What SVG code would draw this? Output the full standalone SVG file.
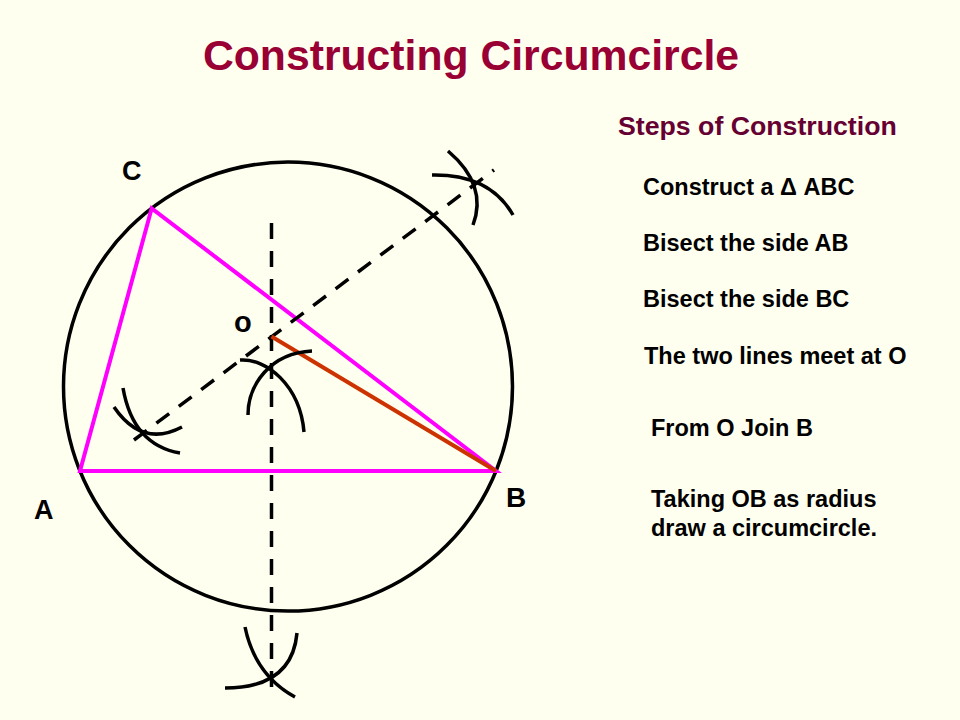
<svg xmlns="http://www.w3.org/2000/svg" width="960" height="720" viewBox="0 0 960 720">
<style>
text{font-family:"Liberation Sans",Arial,sans-serif;font-weight:bold}
.step{font-size:23.5px;fill:#000}
.lbl{font-size:27px;fill:#000}
.k{fill:none;stroke:#000;stroke-width:3.5}
.dash{fill:none;stroke:#000;stroke-width:3.5;stroke-dasharray:16 12}
.arc{fill:none;stroke:#000;stroke-width:3.5}
</style>
<rect width="960" height="720" fill="#FFFFEF"/>
<text x="471" y="70" text-anchor="middle" style="font-size:42.7px;fill:#990033">Constructing Circumcircle</text>
<text x="618" y="135" style="font-size:26.7px;fill:#660033">Steps of Construction</text>
<g id="steps">
<text class="step" x="643" y="195">Construct a Δ ABC</text>
<text class="step" x="643" y="251">Bisect the side AB</text>
<text class="step" x="643" y="307">Bisect the side BC</text>
<text class="step" x="644" y="364">The two lines meet at O</text>
<text class="step" x="651" y="436">From O Join B</text>
<text class="step" x="651" y="507">Taking OB as radius</text>
<text class="step" x="651" y="536">draw a circumcircle.</text>
</g>
<g id="circumcircle"><circle class="k" cx="288" cy="386.6" r="224.5"/></g>
<g id="triangle"><polygon points="80,471 496,471 151.7,208.3" fill="none" stroke="#FF00FF" stroke-width="4" stroke-linejoin="miter"/></g>
<g id="connectors">
<line class="dash" x1="271.5" y1="223" x2="271.5" y2="687"/>
<line class="dash" x1="134" y1="440" x2="494" y2="170"/>
<line x1="271.5" y1="336.5" x2="496" y2="471" stroke="#CC3300" stroke-width="4"/>
</g>
<g id="arcs">
<path class="arc" d="M123,388 Q133,445 180,453"/>
<path class="arc" d="M114,407 Q142,448 182,427"/>
<path class="arc" d="M240,360 C266,358 300,385 304,432"/>
<path class="arc" d="M248,415 C248,385 270,353 312,351"/>
<path class="arc" d="M448,151 Q488,185 473,225"/>
<path class="arc" d="M432,175 Q490,174 513,215"/>
<path class="arc" d="M245,627 Q255,675 295,697"/>
<path class="arc" d="M225,688 Q292,688 297,633"/>
</g>
<g id="labels">
<text class="lbl" x="122" y="180">C</text>
<text class="lbl" x="34" y="519">A</text>
<text class="lbl" x="506" y="507" style="font-size:28px">B</text>
<text class="lbl" x="234" y="332" style="font-size:29px">o</text>
</g>
</svg>
